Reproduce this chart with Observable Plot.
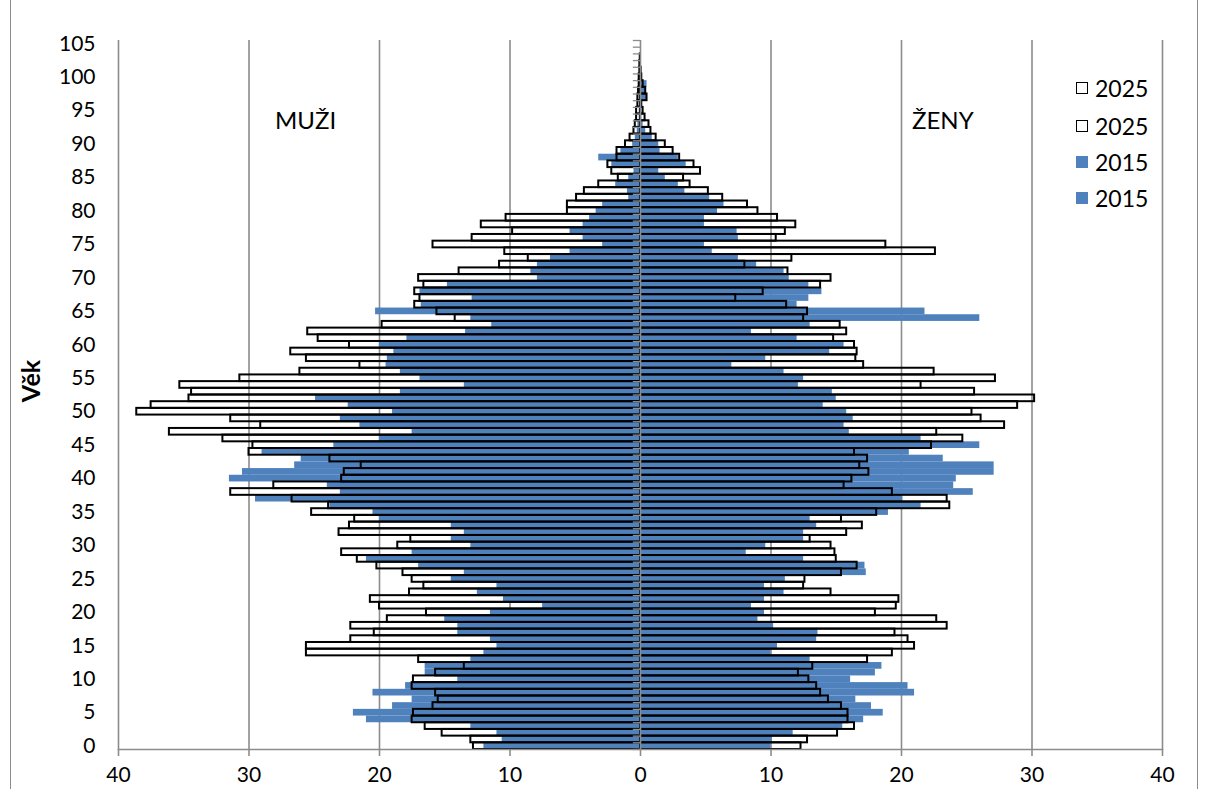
<!DOCTYPE html>
<html>
<head>
<meta charset="utf-8">
<script src="https://cdn.jsdelivr.net/npm/d3@7"></script>
<script src="https://cdn.jsdelivr.net/npm/@observablehq/plot@0.6"></script>
<style>
  body { margin: 0; background: #fff; }
  #wrap { position: relative; width: 1209px; height: 789px; font-family: Lato, "Open Sans", sans-serif; color: #000; overflow: hidden; }
  .edge { position: absolute; top: 0; bottom: 0; width: 0; border-left: 1.5px solid #8c8c8c; }
  .ann { position: absolute; font-size: 24px; line-height: 1; white-space: nowrap; }
  #ylab { position: absolute; left: 30px; top: 381px; transform: translate(-50%, -50%) rotate(-90deg); font-weight: bold; font-size: 25px; }
  .leg { position: absolute; left: 1076px; font-size: 23px; display: flex; align-items: center; gap: 7px; height: 26px; }
  .sw { width: 12px; height: 12px; box-sizing: border-box; }
</style>
</head>
<body>
<div id="wrap"></div>
<script>
// ---- data ----
const ages = d3.range(0, 106);
const yLabelAges = d3.range(0, 106, 5);
const xTicks = [-40, -30, -20, -10, 0, 10, 20, 30, 40];
const sideLabels = ["MUŽI", "ŽENY"];
const legendItems = ["2025", "2025", "2015", "2015"];
const axisTitle = "Věk";

const men2015 = [12.0,10.6,11.0,13.0,21.0,22.0,19.0,17.5,20.5,18.0,
  14.0,16.5,16.5,13.0,12.0,11.0,11.5,14.0,14.0,15.0,
  11.5,7.5,10.5,12.5,11.0,14.5,13.5,17.0,21.0,17.5,
  13.0,14.5,13.5,14.5,20.0,20.5,23.8,29.5,23.0,24.0,
  31.5,30.5,26.5,26.0,29.0,23.5,20.0,17.5,21.5,23.0,
  19.0,22.4,24.9,18.4,13.5,16.9,18.4,19.5,19.4,18.9,
  20.0,17.9,13.4,11.4,13.0,20.3,16.8,12.9,16.9,14.8,
  7.9,8.4,7.9,6.9,5.4,2.9,4.4,5.4,4.4,3.9,
  3.4,2.9,0.9,1.0,1.9,0.9,0.5,2.2,3.2,1.5,
  0.6,0.4,0.25,0.2,0.1,0.1,0.05,0.1,0.1,0.05,
  0.03,0.02,0,0,0,0];
const men2025 = [12.8,13.0,15.2,16.5,17.5,17.4,15.9,15.5,15.7,17.5,
  17.4,15.7,13.5,17.0,25.6,25.6,22.2,20.4,22.2,19.4,
  16.4,20.0,20.7,17.7,16.6,17.5,18.2,20.2,21.7,22.9,
  18.6,17.6,23.1,22.3,21.9,25.2,23.9,26.7,31.4,28.1,
  22.9,22.7,21.4,23.8,30.0,29.7,32.0,36.1,29.1,31.4,
  38.6,37.5,34.6,34.4,35.3,30.7,26.1,21.5,25.6,26.8,
  22.3,24.7,25.5,19.8,14.2,15.6,17.3,16.9,17.3,16.6,
  17.0,13.9,10.8,8.6,10.4,15.9,12.9,9.8,12.2,10.3,
  5.6,5.6,4.9,4.3,3.2,1.7,2.2,2.5,1.8,1.8,
  1.15,0.8,0.5,0.4,0.3,0.3,0.2,0.2,0.15,0.1,
  0.1,0.05,0.05,0.02,0,0];
const women2015 = [10.0,10.1,11.7,15.5,17.1,18.6,17.7,16.5,21.0,20.5,
  16.1,18.0,18.5,13.0,10.0,10.5,13.5,13.6,10.2,9.0,
  9.5,8.5,9.5,11.0,9.5,11.1,17.3,17.2,12.5,8.1,
  9.6,12.5,12.5,13.5,13.0,19.0,21.5,20.1,25.5,24.0,
  24.2,27.1,27.1,23.2,20.6,26.0,21.5,16.0,15.6,16.3,
  15.8,14.0,15.0,14.7,12.1,12.5,11.0,7.0,9.6,14.5,
  15.6,12.0,8.5,13.0,26.0,21.8,12.0,12.9,13.9,12.9,
  11.4,11.0,8.9,7.5,5.5,4.9,7.5,7.4,4.9,4.9,
  5.9,6.4,5.3,3.4,2.9,1.9,1.4,3.5,2.9,1.5,
  1.4,0.9,0.4,0.2,0.1,0.1,0.1,0.5,0.4,0.5,
  0.1,0.05,0,0,0,0];
const women2025 = [12.3,12.8,15.1,16.4,15.9,15.9,15.4,14.4,13.8,13.5,
  12.9,12.1,13.2,17.4,19.3,21.0,20.5,19.5,23.5,22.7,
  18.0,19.6,19.8,14.6,12.5,12.6,15.4,16.6,15.0,14.9,
  14.6,13.0,15.8,17.0,15.4,18.1,23.7,23.5,19.3,15.6,
  16.2,17.5,16.8,17.4,16.4,22.3,24.7,22.7,27.9,26.1,
  25.4,28.9,30.2,25.6,21.5,27.2,22.5,17.1,16.5,16.6,
  16.4,14.8,15.8,15.3,12.5,12.8,11.2,7.3,9.4,13.8,
  14.6,11.3,8.0,11.6,22.6,18.8,10.4,11.1,11.9,10.5,
  9.0,8.2,6.3,5.2,3.8,3.3,4.6,4.1,3.0,2.5,
  1.9,1.2,0.8,0.65,0.35,0.2,0.1,0.5,0.4,0.2,
  0.1,0.05,0,0,0,0];

// ---- build tables ----
const rows2015 = ages.flatMap(a => [{age: a, v: -men2015[a]}, {age: a, v: women2015[a]}]);
const rows2025 = ages.flatMap(a => [{age: a, v: -men2025[a]}, {age: a, v: women2025[a]}]);

const W = 1209, H = 789;
const mTop = 40, mBottom = 40, mLeft = 118, mRight = 47;
const bw = (H - mTop - mBottom) / ages.length;
const grid = "#8c8c8c";
const blue = "#4F81BD";

const chart = Plot.plot({
  width: W, height: H,
  marginTop: mTop, marginBottom: mBottom, marginLeft: mLeft, marginRight: mRight,
  style: {fontFamily: "Lato, 'Open Sans', sans-serif", fontSize: "21px", color: "#000", background: "transparent"},
  x: {domain: [-40, 40]},
  y: {type: "band", domain: ages.slice().reverse(), padding: 0},
  marks: [
    Plot.ruleX(xTicks.filter(d => d !== 0), {stroke: grid, strokeWidth: 1.6}),
    Plot.barX(rows2015, {y: "age", x1: 0, x2: "v", fill: blue, insetTop: 0, insetBottom: 0}),
    Plot.barX(rows2025, {y: "age", x1: 0, x2: "v", fill: "none", stroke: "#000", strokeWidth: 2, insetTop: 0, insetBottom: 0}),
    Plot.ruleX([0], {stroke: grid, strokeWidth: 1.6}),
    Plot.ruleY(ages, {y: d => d, x1: -0.55, x2: 0, dy: bw / 2, stroke: grid, strokeWidth: 1.3}),
    Plot.ruleY([ages[ages.length - 1]], {y: d => d, x1: -0.55, x2: 0, dy: -bw / 2, stroke: grid, strokeWidth: 1.3}),
    Plot.frame({anchor: "bottom", stroke: grid, strokeWidth: 1.6}),
    Plot.axisX({ticks: xTicks, tickFormat: d => Math.abs(d), tickSize: 7, tickPadding: 11, stroke: grid, strokeWidth: 1.6, label: null, fontSize: 21}),
    Plot.axisY({ticks: yLabelAges, tickSize: 0, tickPadding: 23, label: null, fontSize: 21})
  ]
});

const wrap = document.getElementById("wrap");
wrap.appendChild(chart);
chart.style.position = "absolute";
chart.style.left = "0px";
chart.style.top = "0px";

function addDiv(cls, html, css) {
  const d = document.createElement("div");
  d.className = cls;
  d.innerHTML = html;
  Object.assign(d.style, css || {});
  wrap.appendChild(d);
  return d;
}
addDiv("edge", "", {left: "10px"});
addDiv("edge", "", {left: "1197px"});
addDiv("", axisTitle, {}).id = "ylab";
addDiv("ann", sideLabels[0], {left: "275px", top: "108px"});
addDiv("ann", sideLabels[1], {left: "912px", top: "108px"});
const legTops = [75, 113, 149, 185];
legendItems.forEach((t, i) => {
  const isNew = t === "2025";
  const sw = isNew
    ? '<span class="sw" style="border:1.5px solid #000;background:#fff"></span>'
    : '<span class="sw" style="background:' + blue + '"></span>';
  addDiv("leg", sw + "<span>" + t + "</span>", {top: legTops[i] + "px"});
});
</script>
</body>
</html>
